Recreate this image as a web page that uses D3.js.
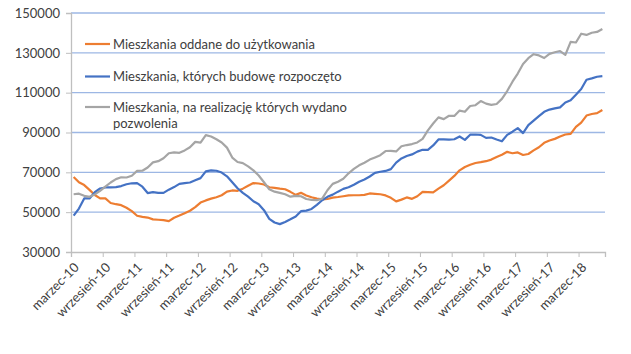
<!DOCTYPE html>
<html><head><meta charset="utf-8">
<script src="https://cdn.jsdelivr.net/npm/d3@7"></script>
<style>body{margin:0;background:#fff}svg{display:block}text{font-family:Lato,"Open Sans",sans-serif;fill:#404040}</style>
</head><body>
<svg id="c" width="631" height="354"></svg>
<script>
const seriesNames = ["Mieszkania oddane do użytkowania","Mieszkania, których budowę rozpoczęto","Mieszkania, na realizację których wydano|pozwolenia"];
const colors = ["#ED7D31","#4472C4","#A5A5A5"];
const oddane = [67700,65000,63600,61200,58600,56900,56900,54600,54000,53500,52200,50500,48200,47600,47300,46400,46200,46000,45500,47200,48300,49500,50700,52500,54800,55900,56800,57500,58500,60300,60900,60700,61800,63300,64600,64400,63900,62500,62200,61800,61500,60200,58700,59700,58400,57500,56800,56400,56600,57300,57600,58000,58400,58500,58500,58700,59400,59200,59000,58400,57200,55400,56300,57400,56700,58000,60200,60100,59900,61800,63500,65800,68200,71000,72700,73800,74700,75100,75600,76400,77700,78800,80300,79600,80000,78700,79200,81000,82600,84800,86000,86800,88000,89000,89300,92800,95000,98500,99300,99700,101300];
const rozpoczete = [48300,51800,56900,56900,60000,61900,62400,62400,62600,63100,64000,64500,64600,62800,59600,60100,59700,59700,61300,62600,64200,64600,64900,66000,67100,70500,71000,70800,69900,68000,65000,62000,59700,57800,55500,54000,51000,46600,44800,44000,45100,46400,47800,50500,50800,51600,53700,56000,57700,58800,60300,61700,62500,63800,65300,66400,67900,69700,70300,70700,71600,74900,77000,78200,79000,80400,81300,81300,83500,86500,86500,86400,86600,88000,86300,88900,89000,88800,87300,87500,86500,85600,88800,90400,92200,89700,93700,96000,98200,100400,101500,102100,102600,105100,106200,109000,111800,116500,117200,118000,118300];
const pozwolenia = [59000,59300,58200,57700,58900,60700,62800,64900,66600,67500,67400,68300,70700,70800,72400,75000,75600,77100,79600,80000,79800,81000,82600,85300,84900,88700,88000,86600,85000,82400,77400,75200,74600,73000,71000,68400,65000,61500,60300,59700,59000,57800,58200,58000,56600,56200,56000,56800,61000,64200,65300,66800,69500,71700,73500,74800,76400,77500,78600,80700,80800,80500,83100,83700,84200,85000,86800,91100,94500,97600,96700,98400,98300,101000,100400,103300,103700,105800,104500,103900,104300,106900,110800,115500,119600,124400,127300,129300,128700,127400,129500,130300,130900,129000,135500,135200,139600,139000,140100,140500,142000];
const tickLabels = ["marzec-10","wrzesień-10","marzec-11","wrzesień-11","marzec-12","wrzesień-12","marzec-13","wrzesień-13","marzec-14","wrzesień-14","marzec-15","wrzesień-15","marzec-16","wrzesień-16","marzec-17","wrzesień-17","marzec-18"];
const yTicks = [30000,50000,70000,90000,110000,130000,150000];

const series = [oddane, rozpoczete, pozwolenia];
const n = oddane.length;
const svg = d3.select("#c");
const L = 71, R = 605, T = 13, B = 252;
const x = d3.scaleLinear().domain([0, n]).range([L, R]);
const y = d3.scaleLinear().domain([30000, 150000]).range([B, T]);

// gridlines
svg.append("g").selectAll("line").data(yTicks.slice(1)).join("line")
  .attr("x1", L).attr("x2", R).attr("y1", d => y(d)).attr("y2", d => y(d))
  .attr("stroke", "#9DB7E4").attr("stroke-width", 1.3);

// y axis
const yAxis = d3.axisLeft(y).tickValues(yTicks).tickSize(5).tickPadding(6).tickFormat(d3.format("d"));
const gy = svg.append("g").attr("transform", `translate(${L},0)`).call(yAxis);
gy.select(".domain").attr("stroke", "#BFBFBF").attr("stroke-width", 1.3);
gy.selectAll(".tick line").attr("stroke", "#BFBFBF");
gy.selectAll("text").attr("font-size", 13).attr("fill", "#404040").style("font-family", "Lato");

// x axis
const tickIdx = tickLabels.map((_, k) => k * 6);
const xAxis = d3.axisBottom(x).tickValues(tickIdx).tickSize(5).tickFormat((d, k) => tickLabels[k]);
const gx = svg.append("g").attr("transform", `translate(0,${B})`).call(xAxis);
gx.select(".domain").attr("stroke", "#BFBFBF").attr("stroke-width", 1.3);
gx.selectAll(".tick line").attr("stroke", "#BFBFBF");
gx.selectAll("text").attr("font-size", 13).attr("fill", "#404040").style("font-family", "Lato")
  .attr("text-anchor", "end").attr("transform", "translate(5,13) rotate(-45)").attr("dy", "0.35em").attr("y", 0).attr("x", 0);

// lines
const line = d3.line().x((d, i) => x(i + 0.5)).y(d => y(d));
series.forEach((s, k) => {
  svg.append("path").datum(s).attr("d", line).attr("fill", "none")
    .attr("stroke", colors[k]).attr("stroke-width", 2.2).attr("stroke-linejoin", "round");
});

// legend
const legY = [44, 76.5, 107];
const leg = svg.append("g");
seriesNames.forEach((name, k) => {
  leg.append("line").attr("x1", 85).attr("x2", 110).attr("y1", legY[k]).attr("y2", legY[k])
    .attr("stroke", colors[k]).attr("stroke-width", 2.2);
  const t = leg.append("text").attr("x", 113).attr("y", legY[k]).attr("dy", "0.35em")
    .attr("font-size", 13).attr("fill", "#262626");
  name.split("|").forEach((part, j) => {
    t.append("tspan").attr("x", 113).attr("dy", j === 0 ? "0.35em" : "16").text(part);
  });
});
</script>
</body></html>
